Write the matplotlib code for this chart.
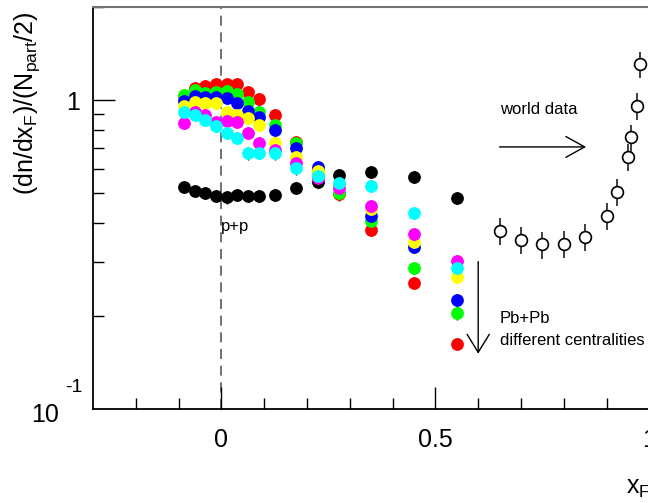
import matplotlib
matplotlib.use("Agg")
import matplotlib.pyplot as plt
from matplotlib.patches import ArrowStyle
import numpy as np

plt.rcParams['font.family'] = ['Liberation Sans', 'DejaVu Sans']
plt.rcParams['mathtext.fontset'] = 'custom'
plt.rcParams['mathtext.rm'] = 'Liberation Sans'
plt.rcParams['mathtext.it'] = 'Liberation Sans:italic'

# ---- data ----
xF = [-0.0875, -0.0625, -0.0375, -0.0125, 0.0125, 0.0375, 0.0625, 0.0875,
      0.125, 0.175, 0.225, 0.275, 0.35, 0.45, 0.55]

pp = [0.524, 0.508, 0.499, 0.488, 0.484, 0.493, 0.490, 0.488,
      0.493, 0.518, 0.544, 0.572, 0.586, 0.565, 0.481]
pb_red = [1.030, 1.094, 1.110, 1.124, 1.127, 1.124, 1.064, 1.005,
          0.894, 0.733, 0.585, 0.495, 0.380, 0.256, 0.162]
pb_green = [1.038, 1.077, 1.056, 1.064, 1.072, 1.046, 0.983, 0.917,
            0.830, 0.724, 0.590, 0.501, 0.406, 0.287, 0.204]
pb_blue = [0.993, 1.030, 1.025, 1.025, 1.013, 0.976, 0.923, 0.883,
           0.800, 0.698, 0.608, 0.531, 0.421, 0.335, 0.225]
pb_yellow = [0.956, 0.988, 0.980, 0.976, 0.917, 0.894, 0.873, 0.830,
             0.724, 0.655, 0.589, 0.527, 0.443, 0.348, 0.268]
pb_magenta = [0.843, 0.915, 0.894, 0.851, 0.857, 0.851, 0.784, 0.724,
              0.689, 0.627, 0.559, 0.518, 0.454, 0.368, 0.301]
pb_cyan = [0.915, 0.894, 0.862, 0.824, 0.784, 0.752, 0.672, 0.675,
           0.672, 0.601, 0.568, 0.540, 0.527, 0.430, 0.286]
pb_rel_err = 0.045

world_x = [0.650, 0.700, 0.750, 0.800, 0.850, 0.900, 0.925, 0.950, 0.957, 0.970, 0.977]
world_y = [0.377, 0.352, 0.341, 0.342, 0.361, 0.421, 0.505, 0.655, 0.757, 0.956, 1.305]
world_rel_err = 0.10

series = [("black", pp), ("red", pb_red), ("#00ff00", pb_green), ("blue", pb_blue),
          ("yellow", pb_yellow), ("magenta", pb_magenta), ("cyan", pb_cyan)]

# ---- figure ----
W, H = 648, 503
fig = plt.figure(figsize=(W / 100, H / 100), dpi=100)
x0, x1 = -0.3, 1.1
pxu = 428.0
left_px, bottom_px, top_px = 93, 409, 7
ax = fig.add_axes([left_px / W, (H - bottom_px) / H, (x1 - x0) * pxu / W, (bottom_px - top_px) / H])
ax.set_yscale('log')
ax.set_xlim(x0, x1)
ax.set_ylim(0.1, 2.0)

ax.axvline(0, color='0.35', lw=1.2, ls=(0, (6, 4)), zorder=1)

for z, (col, vals) in enumerate(series):
    v = np.array(vals)
    ax.errorbar(xF, v, yerr=v * pb_rel_err, fmt='o', color=col, ms=9.2,
                mec=col, mew=0, ecolor='black', elinewidth=1.0, capsize=0,
                zorder=3 + z)

wy = np.array(world_y)
ax.errorbar(world_x, wy, yerr=wy * world_rel_err, fmt='o', ms=8.5, mfc='white',
            mec='black', mew=1.2, ecolor='0.25', elinewidth=1.4, capsize=0, zorder=12)

# arrows and labels
ax.annotate('', xy=(0.852, 0.705), xytext=(0.650, 0.705),
            arrowprops=dict(arrowstyle=ArrowStyle('->', head_length=13.5, head_width=7.5),
                            mutation_scale=1, shrinkA=0, shrinkB=0, lw=1.0, color='black'))
ax.annotate('', xy=(0.600, 0.151), xytext=(0.600, 0.300),
            arrowprops=dict(arrowstyle=ArrowStyle('->', head_length=13.0, head_width=8.0),
                            mutation_scale=1, shrinkA=0, shrinkB=0, lw=1.0, color='black'))
ax.text(0.650, 0.935, 'world data', fontsize=12, ha='left', va='center')
ax.text(0.650, 0.197, 'Pb+Pb', fontsize=12, ha='left', va='center')
ax.text(0.650, 0.167, 'different centralities', fontsize=12, ha='left', va='center')
ax.text(0.0, 0.391, 'p+p', fontsize=12, ha='left', va='center')

# axes styling
ax.spines['right'].set_visible(False)
ax.spines['left'].set_linewidth(1.3)
ax.spines['bottom'].set_linewidth(1.3)
ax.spines['top'].set_linewidth(1.5)
ax.spines['top'].set_color('0.45')

ax.set_xticks([0, 0.5, 1.0])
ax.set_xticklabels(['0', '0.5', '1'])
ax.set_xticks(np.arange(-0.2, 1.11, 0.1), minor=True)
ax.tick_params(axis='x', which='major', direction='in', length=16, width=1.0,
               labelsize=18, pad=14, top=False)
ax.tick_params(axis='x', which='minor', direction='in', length=8, width=1.0, top=False)

ax.set_yticks([1.0])
ax.set_yticklabels(['1'])
ax.set_yticks([0.2, 0.3, 0.4, 0.5, 0.6, 0.7, 0.8, 0.9, 2.0], minor=True)
ax.yaxis.set_minor_formatter(matplotlib.ticker.NullFormatter())
ax.tick_params(axis='y', which='major', direction='in', length=16, width=1.0,
               labelsize=18, pad=9, right=False)
ax.tick_params(axis='y', which='minor', direction='in', length=8, width=1.0, right=False)

# 10^-1 label, ROOT style
trans = matplotlib.transforms.blended_transform_factory(fig.transFigure, ax.transData)
fig.text(59 / W, 0.0955, '10', fontsize=18, ha='right', va='center',
         transform=trans)
fig.text(82 / W, 0.117, '-1', fontsize=14, ha='right', va='center', transform=trans)

fig.text(27 / W, 1 - 11 / H, r'(dn/dx$_{\mathrm{F}}$)/(N$_{\mathrm{part}}$/2)', fontsize=18,
         rotation=90, ha='center', va='top')
fig.text(626 / W, 1 - 488 / H, r'x$_{\mathrm{F}}$', fontsize=18, ha='left', va='center')

fig.savefig('out.png', dpi=100)
